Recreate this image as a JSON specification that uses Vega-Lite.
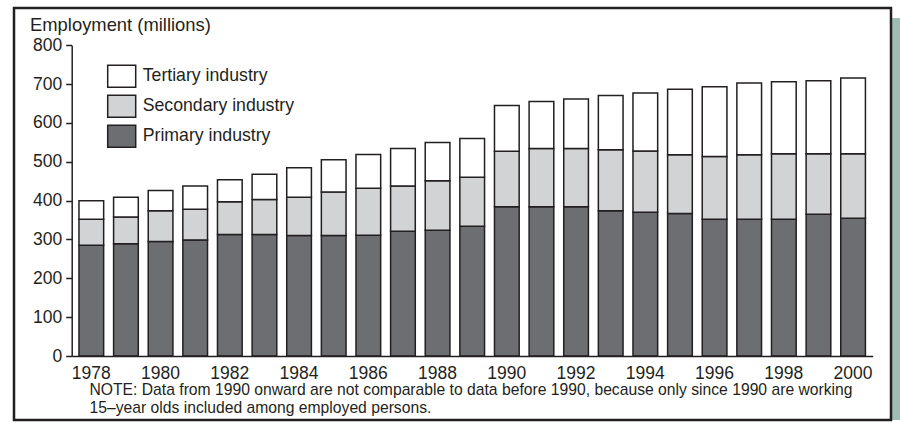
{
  "$schema": "https://vega.github.io/schema/vega-lite/v6.json",
  "width": 877,
  "height": 412,
  "autosize": {"type": "none"},
  "padding": {"left": 14, "top": 8, "right": 9, "bottom": 8},
  "background": "white",
  "config": {
    "font": "Liberation Sans",
    "view": {"stroke": null},
    "axis": {"grid": false, "domainColor": "#231f20", "domainWidth": 1.5, "tickColor": "#231f20", "tickWidth": 1.5, "labelColor": "#231f20", "titleColor": "#231f20", "labelFontSize": 17.5, "titleFontWeight": "normal"},
    "legend": {"labelColor": "#231f20"}
  },
  "layer": [
    {
      "data": {"values": [{}]},
      "mark": {"type": "rect", "fill": "#9ebdb4", "xOffset": 9, "x2Offset": 9, "yOffset": 10, "y2Offset": 10},
      "encoding": {}
    },
    {
      "data": {"values": [{}]},
      "mark": {"type": "rect", "fill": "white", "stroke": "#231f20", "strokeWidth": 2.5},
      "encoding": {}
    },
    {
      "data": {"values": [
        {"year": 1978, "sector": "Primary industry", "value": 285, "k": 1},
        {"year": 1978, "sector": "Secondary industry", "value": 67, "k": 2},
        {"year": 1978, "sector": "Tertiary industry", "value": 48, "k": 3},
        {"year": 1979, "sector": "Primary industry", "value": 289, "k": 1},
        {"year": 1979, "sector": "Secondary industry", "value": 69, "k": 2},
        {"year": 1979, "sector": "Tertiary industry", "value": 51, "k": 3},
        {"year": 1980, "sector": "Primary industry", "value": 295, "k": 1},
        {"year": 1980, "sector": "Secondary industry", "value": 79, "k": 2},
        {"year": 1980, "sector": "Tertiary industry", "value": 52, "k": 3},
        {"year": 1981, "sector": "Primary industry", "value": 299, "k": 1},
        {"year": 1981, "sector": "Secondary industry", "value": 79, "k": 2},
        {"year": 1981, "sector": "Tertiary industry", "value": 60, "k": 3},
        {"year": 1982, "sector": "Primary industry", "value": 313, "k": 1},
        {"year": 1982, "sector": "Secondary industry", "value": 84, "k": 2},
        {"year": 1982, "sector": "Tertiary industry", "value": 57, "k": 3},
        {"year": 1983, "sector": "Primary industry", "value": 313, "k": 1},
        {"year": 1983, "sector": "Secondary industry", "value": 90, "k": 2},
        {"year": 1983, "sector": "Tertiary industry", "value": 65, "k": 3},
        {"year": 1984, "sector": "Primary industry", "value": 310, "k": 1},
        {"year": 1984, "sector": "Secondary industry", "value": 99, "k": 2},
        {"year": 1984, "sector": "Tertiary industry", "value": 76, "k": 3},
        {"year": 1985, "sector": "Primary industry", "value": 310, "k": 1},
        {"year": 1985, "sector": "Secondary industry", "value": 112, "k": 2},
        {"year": 1985, "sector": "Tertiary industry", "value": 83, "k": 3},
        {"year": 1986, "sector": "Primary industry", "value": 311, "k": 1},
        {"year": 1986, "sector": "Secondary industry", "value": 121, "k": 2},
        {"year": 1986, "sector": "Tertiary industry", "value": 87, "k": 3},
        {"year": 1987, "sector": "Primary industry", "value": 321, "k": 1},
        {"year": 1987, "sector": "Secondary industry", "value": 117, "k": 2},
        {"year": 1987, "sector": "Tertiary industry", "value": 96, "k": 3},
        {"year": 1988, "sector": "Primary industry", "value": 324, "k": 1},
        {"year": 1988, "sector": "Secondary industry", "value": 127, "k": 2},
        {"year": 1988, "sector": "Tertiary industry", "value": 99, "k": 3},
        {"year": 1989, "sector": "Primary industry", "value": 334, "k": 1},
        {"year": 1989, "sector": "Secondary industry", "value": 126, "k": 2},
        {"year": 1989, "sector": "Tertiary industry", "value": 100, "k": 3},
        {"year": 1990, "sector": "Primary industry", "value": 384, "k": 1},
        {"year": 1990, "sector": "Secondary industry", "value": 143, "k": 2},
        {"year": 1990, "sector": "Tertiary industry", "value": 118, "k": 3},
        {"year": 1991, "sector": "Primary industry", "value": 384, "k": 1},
        {"year": 1991, "sector": "Secondary industry", "value": 150, "k": 2},
        {"year": 1991, "sector": "Tertiary industry", "value": 121, "k": 3},
        {"year": 1992, "sector": "Primary industry", "value": 384, "k": 1},
        {"year": 1992, "sector": "Secondary industry", "value": 150, "k": 2},
        {"year": 1992, "sector": "Tertiary industry", "value": 128, "k": 3},
        {"year": 1993, "sector": "Primary industry", "value": 374, "k": 1},
        {"year": 1993, "sector": "Secondary industry", "value": 157, "k": 2},
        {"year": 1993, "sector": "Tertiary industry", "value": 140, "k": 3},
        {"year": 1994, "sector": "Primary industry", "value": 370, "k": 1},
        {"year": 1994, "sector": "Secondary industry", "value": 158, "k": 2},
        {"year": 1994, "sector": "Tertiary industry", "value": 149, "k": 3},
        {"year": 1995, "sector": "Primary industry", "value": 367, "k": 1},
        {"year": 1995, "sector": "Secondary industry", "value": 151, "k": 2},
        {"year": 1995, "sector": "Tertiary industry", "value": 169, "k": 3},
        {"year": 1996, "sector": "Primary industry", "value": 352, "k": 1},
        {"year": 1996, "sector": "Secondary industry", "value": 162, "k": 2},
        {"year": 1996, "sector": "Tertiary industry", "value": 179, "k": 3},
        {"year": 1997, "sector": "Primary industry", "value": 352, "k": 1},
        {"year": 1997, "sector": "Secondary industry", "value": 166, "k": 2},
        {"year": 1997, "sector": "Tertiary industry", "value": 185, "k": 3},
        {"year": 1998, "sector": "Primary industry", "value": 352, "k": 1},
        {"year": 1998, "sector": "Secondary industry", "value": 169, "k": 2},
        {"year": 1998, "sector": "Tertiary industry", "value": 185, "k": 3},
        {"year": 1999, "sector": "Primary industry", "value": 365, "k": 1},
        {"year": 1999, "sector": "Secondary industry", "value": 156, "k": 2},
        {"year": 1999, "sector": "Tertiary industry", "value": 188, "k": 3},
        {"year": 2000, "sector": "Primary industry", "value": 355, "k": 1},
        {"year": 2000, "sector": "Secondary industry", "value": 166, "k": 2},
        {"year": 2000, "sector": "Tertiary industry", "value": 195, "k": 3}
      ]},
      "mark": {"type": "bar", "stroke": "#231f20", "strokeWidth": 1.5},
      "encoding": {
        "x": {
          "field": "year", "type": "ordinal",
          "scale": {"range": [57.7, 858.7], "paddingInner": 0.287, "paddingOuter": 0.21},
          "axis": {
            "zindex": 2,
            "values": [1978, 1980, 1982, 1984, 1986, 1988, 1990, 1992, 1994, 1996, 1998, 2000],
            "labelAngle": 0, "ticks": false, "tickSize": 0, "offset": -64,
            "labelBaseline": "alphabetic", "labelPadding": 22.3,
            "title": ["NOTE: Data from 1990 onward are not comparable to data before 1990, because only since 1990 are working", "15–year olds included among employed persons."],
            "titleFontSize": 15.7, "titleAlign": "left", "titleAnchor": "start", "titleBaseline": "alphabetic",
            "titleX": 75, "titleY": 38, "titleLineHeight": 18.3
          }
        },
        "y": {
          "field": "value", "type": "quantitative", "stack": "zero",
          "scale": {"domain": [0, 800], "range": [348, 37.3], "nice": false},
          "axis": {
            "zindex": 2,
            "values": [0, 100, 200, 300, 400, 500, 600, 700, 800],
            "offset": -57.7, "tickSize": 6, "labelPadding": 4,
            "title": "Employment (millions)", "titleAngle": 0, "titleAlign": "left", "titleBaseline": "alphabetic",
            "titleFontSize": 18.4, "titleX": -42.2, "titleY": 22.7
          }
        },
        "color": {
          "field": "sector", "type": "nominal",
          "scale": {"domain": ["Tertiary industry", "Secondary industry", "Primary industry"], "range": ["#ffffff", "#d1d3d4", "#6d6e71"]},
          "legend": {
            "orient": "none", "legendX": 92.7, "legendY": 53.3, "title": null, "padding": 0,
            "symbolType": "M-1,-0.786L1,-0.786L1,0.786L-1,0.786Z", "symbolSize": 784,
            "symbolStrokeColor": "#231f20", "symbolStrokeWidth": 1.5, "symbolOpacity": 1,
            "labelFontSize": 17.7, "labelOffset": 6, "rowPadding": -6
          }
        },
        "order": {"field": "k", "type": "quantitative"}
      }
    }
  ]
}
